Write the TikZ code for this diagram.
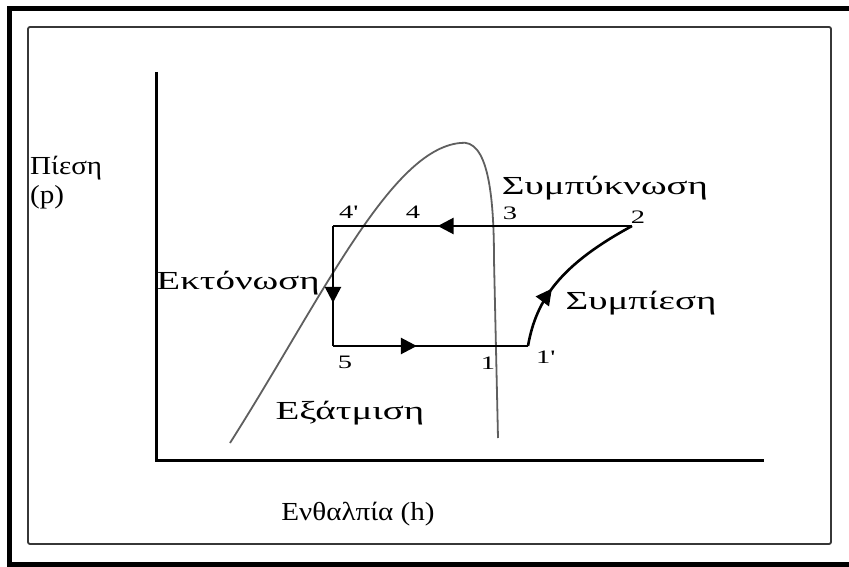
\documentclass[tikz,border=0pt]{standalone}
\usepackage{fontspec}
\setmainfont{Liberation Serif}[FakeStretch=1.5]
\newfontfamily\axisfont{Liberation Serif}[FakeStretch=1.12]
\usetikzlibrary{arrows.meta, decorations.markings}
\definecolor{DomeGray}{RGB}{95, 95, 95}
\definecolor{FrameGray}{RGB}{55, 55, 55}
\tikzset{
  cycleline/.style={line width=2.6pt, black},
  midarrow/.style={postaction={decorate}, decoration={markings,
      mark=at position #1 with {\arrow{Triangle[length=16pt, width=16pt]}}}},
  greektext/.style={font=\fontsize{26}{30}\selectfont, inner sep=0pt},
  axistext/.style={font=\axisfont\fontsize{26}{30}\selectfont, inner sep=0pt},
  pointtext/.style={font=\fontsize{19}{22}\selectfont, inner sep=0pt}
}

\begin{document}
\begin{tikzpicture}[x=1pt, y=-1pt]
    \useasboundingbox (0,0) rectangle (849,567);
    \draw[line width=5.5pt] (849,8.5) -- (9.5,8.5) -- (9.5,565) -- (849,565);
    \draw[line width=1.8pt, FrameGray, rounded corners=2pt] (28,27) rectangle (831,544);

    % axes
    \coordinate (ytop) at (156,72);
    \coordinate (origin) at (156,460);
    \coordinate (xend) at (764,460);
    \draw[line width=3pt] (ytop) -- (origin) -- (xend);

    % saturation dome
    \coordinate (domestart) at (230,443);
    \coordinate (domepeak) at (460,143);
    \coordinate (domeend) at (498,438);
    \draw[line width=1.8pt, DomeGray] (domestart) .. controls (322,298) and (390,150) .. (domepeak)
      .. controls (488,138) and (494,195) .. (494,260) -- (domeend);

    % cycle points
    \coordinate (p2) at (632,226);
    \coordinate (p4p) at (333,226);
    \coordinate (p5) at (333,346);
    \coordinate (p1p) at (528,346);
    \draw[cycleline, midarrow=0.65] (p2) -- (p4p);
    \draw[cycleline, midarrow=0.64] (p4p) -- (p5);
    \draw[cycleline, midarrow=0.43] (p5) -- (p1p);
    \draw[cycleline, midarrow=0.38] (p1p) .. controls (536,300) and (560,265) .. (p2);

    \node[axistext, anchor=west] (pres) at (30,168) {Πίεση};
    \node[axistext, anchor=west] (presp) at (30,197) {(p)};
    \node[axistext] (enth) at (358,514) {Ενθαλπία (h)};
    \node[greektext] (cond) at (605,188) {Συμπύκνωση};
    \node[greektext] (comp) at (641,303) {Συμπίεση};
    \node[greektext, anchor=east] (expn) at (320,283) {Εκτόνωση};
    \node[greektext] (evap) at (350,413) {Εξάτμιση};

    \node[pointtext] (n4p) at (348,212) {4\textquotesingle};
    \node[pointtext] (n4) at (413,212) {4};
    \node[pointtext] (n3) at (510,213) {3};
    \node[pointtext] (n2) at (638,217) {2};
    \node[pointtext] (n5) at (345,362) {5};
    \node[pointtext] (n1) at (488,363) {1};
    \node[pointtext] (n1p) at (545,357) {1\textquotesingle};
\end{tikzpicture}
\end{document}
